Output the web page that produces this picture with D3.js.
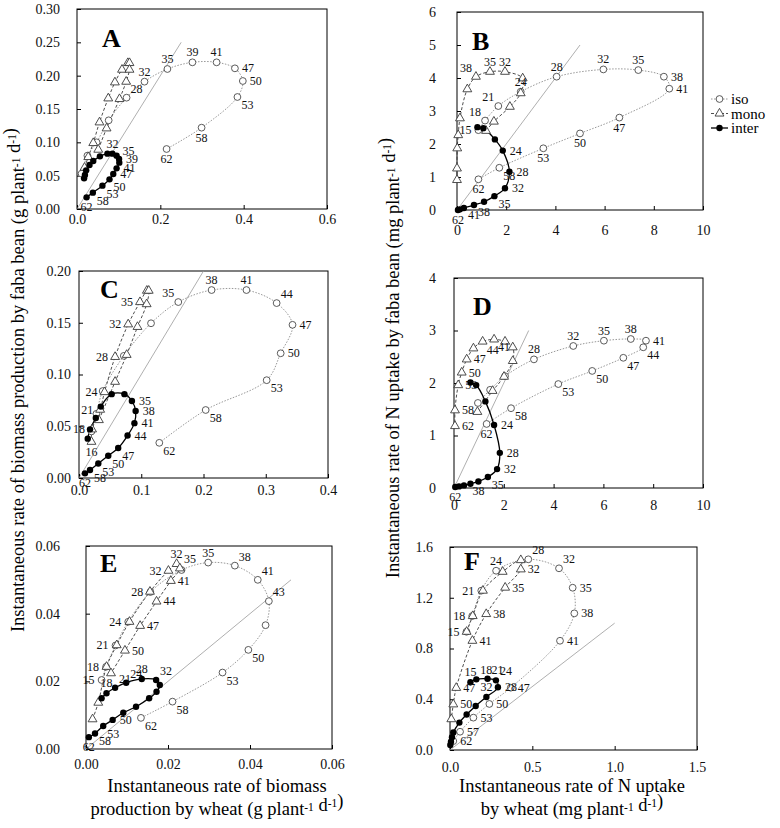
<!DOCTYPE html>
<html>
<head>
<meta charset="utf-8">
<script src="https://cdn.jsdelivr.net/npm/d3@7"></script>
<style>
  body { margin: 0; background: #fff; }
  svg { display: block; }
  text { font-family: "Liberation Serif", "Times New Roman", serif; }
</style>
</head>
<body>
<svg id="chart" width="780" height="828"></svg>
<script>
// ---- data: [wheat rate, faba bean rate], days after sowing as labels ----
// Panel A: biomass, sampling 1
const A_iso = [[0.011,0.053],[0.025,0.080],[0.047,0.100],[0.076,0.133],[0.119,0.167],[0.162,0.191],[0.217,0.210],[0.277,0.220],[0.335,0.220],[0.379,0.211],[0.398,0.192],[0.385,0.168],[0.299,0.122],[0.215,0.090]];
const A_isoDays = ["","","","","28","32","35","39","41","47","50","53","58","62"];
const A_mono = [[0.018,0.062],[0.027,0.078],[0.039,0.099],[0.054,0.130],[0.075,0.166],[0.091,0.190],[0.108,0.209],[0.122,0.219],[0.126,0.219],[0.126,0.209],[0.118,0.191],[0.102,0.165],[0.071,0.121],[0.051,0.089]];
const A_monoDays = ["","","","","","","","","","","","","",""];
const A_inter = [[0.017,0.046],[0.019,0.051],[0.022,0.058],[0.030,0.066],[0.039,0.072],[0.055,0.079],[0.073,0.083],[0.085,0.083],[0.095,0.080],[0.101,0.075],[0.1015,0.0695],[0.095,0.061],[0.087,0.0525],[0.078,0.0445],[0.061,0.035],[0.038,0.0245],[0.023,0.0175]];
const A_interDays = ["","","","","","","","32","35","39","","41","47","50","53","58","62"];

// Panel B: N uptake, sampling 1
const B_iso = [[0.87,2.42],[1.14,2.71],[1.68,3.15],[2.59,3.585],[4.05,4.04],[5.95,4.26],[7.37,4.24],[8.41,4.04],[8.63,3.676],[6.60,2.80],[5.0,2.32],[3.51,1.87],[1.72,1.28],[0.87,0.93]];
const B_isoDays = ["15","18","21","24","28","32","35","38","41","47","50","53","58","62"];
const B_mono = [[1.18,2.40],[1.50,2.68],[2.15,3.13],[2.59,3.54],[2.67,3.99],[1.95,4.19],[1.34,4.19],[0.77,4.04],[0.42,3.66],[0.12,2.78],[0.05,2.27],[0.01,1.87],[0.0,1.26],[0.0,0.91]];
const B_monoDays = ["","","","","","32","35","38","","","","","",""];
const B_inter = [[0.83,2.51],[1.07,2.48],[1.54,2.14],[1.86,1.80],[2.13,1.16],[1.95,0.66],[1.52,0.42],[1.10,0.25],[0.69,0.15],[0.28,0.06],[0.12,0.02],[0.04,0.0]];
const B_interDays = ["","","","24","28","32","35","38","41","","","62"];

// Panel C: biomass, sampling 2
const C_iso = [[0.020,0.045],[0.028,0.062],[0.038,0.084],[0.072,0.118],[0.1157,0.1495],[0.1595,0.170],[0.213,0.1816],[0.269,0.1816],[0.3175,0.169],[0.343,0.148],[0.324,0.1205],[0.3015,0.0945],[0.2035,0.0657],[0.129,0.034]];
const C_isoDays = ["","","","","","35","38","41","44","47","50","53","58","62"];
const C_mono = [[0.020,0.035],[0.021,0.047],[0.034,0.066],[0.041,0.083],[0.058,0.117],[0.079,0.1485],[0.098,0.170],[0.109,0.181],[0.112,0.181],[0.1087,0.168],[0.094,0.146],[0.0766,0.119],[0.058,0.093],[0.032,0.056]];
const C_monoDays = ["16","18","21","24","28","32","35","","","","","","",""];
const C_inter = [[0.014,0.038],[0.0177,0.047],[0.027,0.058],[0.035,0.069],[0.0525,0.081],[0.073,0.081],[0.085,0.0744],[0.091,0.0647],[0.089,0.053],[0.078,0.041],[0.063,0.029],[0.047,0.0215],[0.031,0.014],[0.0177,0.0077],[0.0096,0.0045]];
const C_interDays = ["","","","","","","35","38","41","44","47","50","53","58","62"];

// Panel D: N uptake, sampling 2
const D_iso = [[0.96,1.62],[1.45,1.87],[2.05,2.13],[3.21,2.45],[4.79,2.705],[6.02,2.806],[7.10,2.838],[7.71,2.806],[7.60,2.68],[6.80,2.48],[5.55,2.23],[4.19,1.98],[2.29,1.52],[1.31,1.22]];
const D_isoDays = ["","","","28","32","35","38","41","44","47","50","53","58","62"];
const D_mono = [[0.94,1.45],[1.55,1.85],[2.01,2.12],[2.36,2.42],[2.36,2.68],[2.05,2.79],[1.61,2.83],[1.15,2.79],[0.78,2.66],[0.51,2.45],[0.31,2.20],[0.17,1.96],[0.04,1.48],[0.04,1.18]];
const D_monoDays = ["","","","","","","41","44","","47","50","53","58","62"];
const D_inter = [[0.66,2.01],[0.89,1.96],[1.26,1.65],[1.61,1.20],[1.84,0.67],[1.73,0.36],[1.36,0.21],[0.98,0.125],[0.66,0.08],[0.40,0.05],[0.20,0.03],[0.05,0.02]];
const D_interDays = ["","","","24","28","32","35","38","","","","62"];

// Panel E: biomass, sampling 3
const E_iso = [[0.0038,0.0204],[0.0049,0.0243],[0.0072,0.0306],[0.0103,0.0376],[0.0157,0.0464],[0.0233,0.0529],[0.0298,0.0551],[0.0363,0.0542],[0.0419,0.0500],[0.0446,0.0437],[0.0438,0.0366],[0.0396,0.0293],[0.0333,0.0226],[0.0211,0.0140],[0.0134,0.0092]];
const E_isoDays = ["15","18","21","24","28","","35","38","41","43","","50","53","58","62"];
const E_mono = [[0.0016,0.0088],[0.0030,0.0137],[0.0050,0.0243],[0.0075,0.0307],[0.0106,0.0376],[0.0156,0.0465],[0.0201,0.0527],[0.0221,0.0547],[0.0229,0.0534],[0.0207,0.0497],[0.0172,0.0436],[0.0132,0.0364],[0.0095,0.0291],[0.0061,0.0224]];
const E_monoDays = ["","","","","","","32","32","35","41","44","47","50",""];
const E_inter = [[0.0038,0.0150],[0.0050,0.0165],[0.0071,0.0181],[0.0098,0.0196],[0.0136,0.0207],[0.0171,0.0204],[0.0180,0.0189],[0.0172,0.0169],[0.0154,0.0150],[0.0122,0.0125],[0.0091,0.0107],[0.0065,0.0086],[0.0042,0.0068],[0.0022,0.0046],[0.0007,0.0035]];
const E_interDays = ["","18","21","24","28","32","","","","","","50","53","58","62"];

// Panel F: N uptake, sampling 3
const F_iso = [[0.10,0.932],[0.135,1.056],[0.19,1.256],[0.28,1.413],[0.4755,1.503],[0.662,1.432],[0.745,1.279],[0.755,1.077],[0.668,0.861],[0.369,0.491],[0.239,0.363],[0.142,0.255],[0.061,0.144],[0.02,0.07]];
const F_isoDays = ["15","18","21","24","28","32","35","38","41","47","50","53","57","62"];
const F_mono = [[0.101,0.932],[0.138,1.056],[0.20,1.256],[0.32,1.405],[0.43,1.497],[0.43,1.424],[0.335,1.280],[0.22,1.072],[0.136,0.861],[0.038,0.49],[0.02,0.36],[0.008,0.243]];
const F_monoDays = ["","","","","","32","35","38","41","47","50",""];
const F_inter = [[0.124,0.534],[0.16,0.557],[0.228,0.561],[0.279,0.549],[0.291,0.494],[0.221,0.418],[0.156,0.347],[0.101,0.28],[0.057,0.216],[0.02,0.138],[0.012,0.10],[0.006,0.065],[0.002,0.04]];
const F_interDays = ["15","18","21","24","28","32","","","","","","",""];

// 1:1 reference line end (x = y up to this value)
const refEnd = { A: 0.25, B: 5, C: 0.2, D: 3, E: 0.05, F: 1 };

// tick values
const A_xTicks = [0, 0.2, 0.4, 0.6],        A_yTicks = [0, 0.05, 0.10, 0.15, 0.20, 0.25, 0.30];
const B_xTicks = [0, 2, 4, 6, 8, 10],       B_yTicks = [0, 1, 2, 3, 4, 5, 6];
const C_xTicks = [0, 0.1, 0.2, 0.3, 0.4],   C_yTicks = [0, 0.05, 0.10, 0.15, 0.20];
const D_xTicks = [0, 2, 4, 6, 8, 10],       D_yTicks = [0, 1, 2, 3, 4];
const E_xTicks = [0, 0.02, 0.04, 0.06],     E_yTicks = [0, 0.02, 0.04, 0.06];
const F_xTicks = [0, 0.5, 1.0, 1.5],        F_yTicks = [0, 0.4, 0.8, 1.2, 1.6];

const seriesNames = ["iso", "mono", "inter"];

// ---- label placement (where each day label sits relative to its point) ----
const labelSide = {
  A: { iso: ["","","","","tr","t","t","t","t","r","r","br","b","b"],
       mono: [],
       inter: ["","","","","","","","t","ru","r","","r","r","br","br","br","b"] },
  B: { iso: ["l","tl","tl","t","t","t","t","r","r","b","b","b","br","b"],
       mono: ["","","","","","t","t","tl","","","","","",""],
       inter: ["","","","r","r","r","br","b","b","","","b"] },
  C: { iso: ["","","","","","tl","t","t","tr","r","r","br","br","br"],
       mono: ["b","l","l","l","l","l","l","","","","","","",""],
       inter: ["","","","","","","r","r","r","r","br","br","br","br","b"] },
  D: { iso: ["","","","t","t","t","t","r","br","br","br","br","br","b"],
       mono: ["","","","","","","br","br","","r","r","r","r","r"],
       inter: ["","","","r","r","r","br","b","","","","b"] },
  E: { iso: ["l","l","l","l","l","","t","tr","tr","tr","","br","br","br","br"],
       mono: ["","","","","","","l","t","tr","r","r","r","r",""],
       inter: ["","t","tr","tr","t","tr","","","","","","r","br","br","b"] },
  F: { iso: ["l","l","l","t","tr","tr","r","r","r","r","r","r","r","r"],
       mono: ["","","","","","r","r","r","r","r","r",""],
       inter: ["t","tr","tr","tr","r","t","","","","","","",""] }
};
const sideOffset = {
  r:  [7, 4, "start"],  ru: [6, -1, "start"], l:  [-7, 4, "end"],
  t:  [0, -6, "middle"], b: [0, 14, "middle"],
  tr: [4, -5, "start"], tl: [-4, -5, "end"],
  br: [4, 12, "start"], bl: [-5, 12, "end"]
};

// ---- panel layout ----
const panels = [
  { id: "A", frame: [77, 327, 9, 209],   xDom: [0, 0.6], yDom: [0, 0.30], xTicks: A_xTicks, yTicks: A_yTicks, xFmt: ".1f", yFmt: ".2f", yGap: 17, xGap: 5,  letter: [102, 47],
    iso: A_iso, isoDays: A_isoDays, mono: A_mono, monoDays: A_monoDays, inter: A_inter, interDays: A_interDays },
  { id: "B", frame: [457, 703, 12, 210], xDom: [0, 10], yDom: [0, 6], xTicks: B_xTicks, yTicks: B_yTicks, xFmt: "d", yFmt: "d", yGap: 21, xGap: 15, letter: [472, 50],
    iso: B_iso, isoDays: B_isoDays, mono: B_mono, monoDays: B_monoDays, inter: B_inter, interDays: B_interDays },
  { id: "C", frame: [79, 328, 271, 478], xDom: [0, 0.4], yDom: [0, 0.20], xTicks: C_xTicks, yTicks: C_yTicks, xFmt: ".1f", yFmt: ".2f", yGap: 8,  xGap: 7,  letter: [100, 298],
    iso: C_iso, isoDays: C_isoDays, mono: C_mono, monoDays: C_monoDays, inter: C_inter, interDays: C_interDays },
  { id: "D", frame: [454, 703, 278, 488], xDom: [0, 10], yDom: [0, 4], xTicks: D_xTicks, yTicks: D_yTicks, xFmt: "d", yFmt: "d", yGap: 18, xGap: 12, letter: [473, 315],
    iso: D_iso, isoDays: D_isoDays, mono: D_mono, monoDays: D_monoDays, inter: D_inter, interDays: D_interDays },
  { id: "E", frame: [86, 332, 546, 749], xDom: [0, 0.06], yDom: [0, 0.06], xTicks: E_xTicks, yTicks: E_yTicks, xFmt: ".2f", yFmt: ".2f", yGap: 26, xGap: 10, letter: [100, 572],
    iso: E_iso, isoDays: E_isoDays, mono: E_mono, monoDays: E_monoDays, inter: E_inter, interDays: E_interDays },
  { id: "F", frame: [450, 697, 547, 750], xDom: [0, 1.5], yDom: [0, 1.6], xTicks: F_xTicks, yTicks: F_yTicks, xFmt: ".1f", yFmt: ".1f", yGap: 17, xGap: 12, letter: [464, 570],
    iso: F_iso, isoDays: F_isoDays, mono: F_mono, monoDays: F_monoDays, inter: F_inter, interDays: F_interDays }
];

const style = {
  iso:   { line: "#8c8c8c", width: 0.9, dash: "1.5,1.5" },
  mono:  { line: "#3a3a3a", width: 0.9, dash: "3,2" },
  inter: { line: "#000",    width: 1.3, dash: null }
};

const svg = d3.select("#chart");

function drawMarker(g, name, cx, cy) {
  if (name === "iso") {
    g.append("circle").attr("cx", cx).attr("cy", cy).attr("r", 3.4)
      .attr("fill", "#fff").attr("stroke", "#4a4a4a").attr("stroke-width", 0.9);
  } else if (name === "mono") {
    g.append("path").attr("d", d3.symbol(d3.symbolTriangle, 34)())
      .attr("transform", `translate(${cx},${cy})`)
      .attr("fill", "#fff").attr("stroke", "#3a3a3a").attr("stroke-width", 0.9);
  } else {
    g.append("circle").attr("cx", cx).attr("cy", cy).attr("r", 3.2).attr("fill", "#000");
  }
}

panels.forEach(p => {
  const [x0, x1, y0, y1] = p.frame;
  const x = d3.scaleLinear().domain(p.xDom).range([x0, x1]);
  const y = d3.scaleLinear().domain(p.yDom).range([y1, y0]);
  const g = svg.append("g");

  // axes (ticks point inward)
  const xa = g.append("g").attr("transform", `translate(0,${y1})`)
    .call(d3.axisBottom(x).tickValues(p.xTicks).tickFormat(d3.format(p.xFmt))
      .tickSize(-4).tickSizeOuter(0).tickPadding(p.xGap));
  const ya = g.append("g").attr("transform", `translate(${x0},0)`)
    .call(d3.axisLeft(y).tickValues(p.yTicks).tickFormat(d3.format(p.yFmt))
      .tickSize(-4).tickSizeOuter(0).tickPadding(p.yGap));
  [xa, ya].forEach(a => {
    a.select(".domain").remove();
    a.selectAll("text").attr("font-size", 14).attr("fill", "#111")
      .attr("font-family", "Liberation Serif, serif");
    a.selectAll("line").attr("stroke", "#000");
  });

  g.append("rect").attr("x", x0).attr("y", y0).attr("width", x1 - x0).attr("height", y1 - y0)
    .attr("fill", "none").attr("stroke", "#000").attr("stroke-width", 1);

  // 1:1 line
  const e = refEnd[p.id];
  g.append("line").attr("x1", x(0)).attr("y1", y(0)).attr("x2", x(e)).attr("y2", y(e))
    .attr("stroke", "#9a9a9a").attr("stroke-width", 0.8);

  const line = d3.line().x(d => x(d[0])).y(d => y(d[1])).curve(d3.curveCatmullRom.alpha(0.5));

  seriesNames.forEach(name => {
    const s = style[name];
    g.append("path").datum(p[name]).attr("d", line).attr("fill", "none")
      .attr("stroke", s.line).attr("stroke-width", s.width)
      .attr("stroke-dasharray", s.dash);
  });
  seriesNames.forEach(name => {
    p[name].forEach(d => drawMarker(g, name, x(d[0]), y(d[1])));
  });

  // day labels
  seriesNames.forEach(name => {
    const days = p[name + "Days"];
    const sides = labelSide[p.id][name];
    p[name].forEach((d, i) => {
      if (!days[i]) return;
      const o = sideOffset[sides[i] || "r"];
      g.append("text").attr("x", x(d[0]) + o[0]).attr("y", y(d[1]) + o[1])
        .attr("text-anchor", o[2]).attr("font-size", 12).attr("fill", "#111")
        .text(days[i]);
    });
  });

  g.append("text").attr("x", p.letter[0]).attr("y", p.letter[1])
    .attr("font-size", 26).attr("font-weight", "bold").text(p.id);
});

// ---- legend (beside B) ----
const legend = svg.append("g").attr("transform", "translate(711,99)");
seriesNames.forEach((name, i) => {
  const row = legend.append("g").attr("transform", `translate(0,${i * 14.5})`);
  const s = style[name];
  row.append("line").attr("x1", 0).attr("x2", 17).attr("y1", 0).attr("y2", 0)
    .attr("stroke", s.line).attr("stroke-width", s.width).attr("stroke-dasharray", s.dash);
  drawMarker(row, name, 8.5, 0);
  row.append("text").attr("x", 20).attr("y", 5).attr("font-size", 15).text(name);
});

// ---- axis titles ----
function richText(sel, parts) {
  parts.forEach(([t, sup]) => {
    if (sup) {
      sel.append("tspan").attr("dy", -4).attr("font-size", "0.62em").text(t);
      sel.append("tspan").attr("dy", 4).text("");
    } else {
      sel.append("tspan").text(t);
    }
  });
}
const titleSize = 18.5;
const leftTitle = svg.append("text").attr("transform", "translate(18,380) rotate(-90)")
  .attr("text-anchor", "middle").attr("dy", "0.35em").attr("font-size", titleSize);
richText(leftTitle, [["Instantaneous rate of biomass production by faba bean (g plant"], ["-1", true], [" d"], ["-1", true], [")"]]);

const rightTitle = svg.append("text").attr("transform", "translate(393,358) rotate(-90)")
  .attr("text-anchor", "middle").attr("dy", "0.35em").attr("font-size", titleSize);
richText(rightTitle, [["Instantaneous rate of N uptake by faba bean (mg plant"], ["-1", true], [" d"], ["-1", true], [")"]]);

svg.append("text").attr("x", 217).attr("y", 792).attr("text-anchor", "middle").attr("font-size", titleSize)
  .text("Instantaneous rate of biomass");
const b2 = svg.append("text").attr("x", 217).attr("y", 815).attr("text-anchor", "middle").attr("font-size", titleSize);
richText(b2, [["production by wheat (g plant"], ["-1", true], [" d"], ["-1", true], [")"]]);

svg.append("text").attr("x", 572).attr("y", 792).attr("text-anchor", "middle").attr("font-size", titleSize)
  .text("Instantaneous rate of N uptake");
const f2 = svg.append("text").attr("x", 572).attr("y", 815).attr("text-anchor", "middle").attr("font-size", titleSize);
richText(f2, [["by wheat (mg plant"], ["-1", true], [" d"], ["-1", true], [")"]]);
</script>
</body>
</html>
